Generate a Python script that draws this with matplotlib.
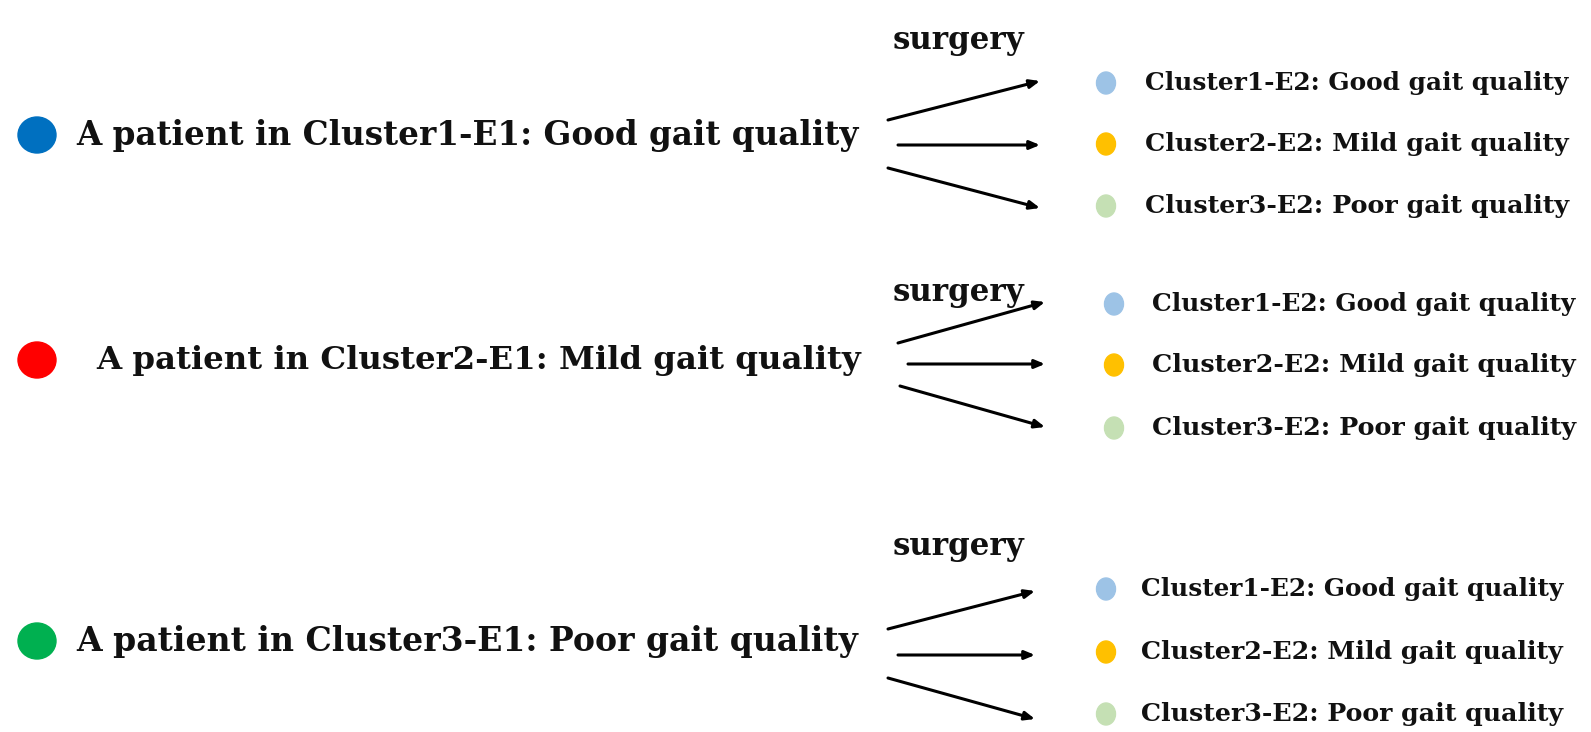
import matplotlib
matplotlib.use("Agg")
import matplotlib.pyplot as plt
from matplotlib.patches import Ellipse

W, H = 1591, 732
FONT = "DejaVu Serif"

# content
main_labels = ["A patient in Cluster1-E1: Good gait quality",
               "A patient in Cluster2-E1: Mild gait quality",
               "A patient in Cluster3-E1: Poor gait quality"]
main_colors = ["#0070C0", "#FF0000", "#00B050"]
outcome_labels = ["Cluster1-E2: Good gait quality",
                  "Cluster2-E2: Mild gait quality",
                  "Cluster3-E2: Poor gait quality"]
outcome_colors = ["#9DC3E6", "#FFC000", "#C5E0B4"]
step_label = "surgery"

# layout (pixels)
main_y = [135, 360, 641]
main_dot_x = 37
main_text_x = [76, 96, 76]
main_text_right = [857, 860, 855]
surgery_pos = [(893, 40), (893, 293), (893, 546)]
arrow_sets = [
    [((888, 120), (1040, 81)), ((898, 145), (1040, 145)), ((888, 168), (1040, 208))],
    [((898, 343), (1045, 302)), ((908, 364), (1045, 364)), ((900, 386), (1045, 427))],
    [((888, 629), (1035, 591)), ((898, 655), (1035, 655)), ((888, 678), (1035, 719))],
]
small_dot_x = [1106, 1114, 1106]
small_dot_y = [[83, 144, 206], [304, 365, 428], [589, 652, 714]]
small_text_x = [1145, 1152, 1141]
small_text_right = [1568, 1575, 1562]

fig = plt.figure(figsize=(W / 100, H / 100), dpi=100)
ax = fig.add_axes([0, 0, 1, 1])
ax.set_xlim(0, W)
ax.set_ylim(H, 0)
ax.axis("off")

fig.canvas.draw()
renderer = fig.canvas.get_renderer()


def fit_text(x, y, s, right, size0, **kw):
    t = ax.text(x, y, s, fontsize=size0, family=FONT, fontweight="bold",
                va="center", ha="left", color="#111111", **kw)
    bb = t.get_window_extent(renderer=renderer)
    scale = (right - x) / bb.width
    t.set_fontsize(size0 * scale)
    return t


for g in range(3):
    ax.add_patch(Ellipse((main_dot_x, main_y[g]), 38, 36, color=main_colors[g]))
    fit_text(main_text_x[g], main_y[g], main_labels[g], main_text_right[g], 22)
    sx, sy = surgery_pos[g]
    fit_text(sx, sy, step_label, sx + 132, 20)
    for (p0, p1) in arrow_sets[g]:
        ax.annotate("", xy=p1, xytext=p0,
                    arrowprops=dict(arrowstyle="-|>,head_length=0.6,head_width=0.25",
                                    color="black", lw=2.2, shrinkA=0, shrinkB=0))
    for k in range(3):
        ax.add_patch(Ellipse((small_dot_x[g], small_dot_y[g][k]), 19, 22,
                             color=outcome_colors[k]))
        fit_text(small_text_x[g], small_dot_y[g][k], outcome_labels[k],
                 small_text_right[g], 16)

fig.savefig("out.png", dpi=100, facecolor="white")
